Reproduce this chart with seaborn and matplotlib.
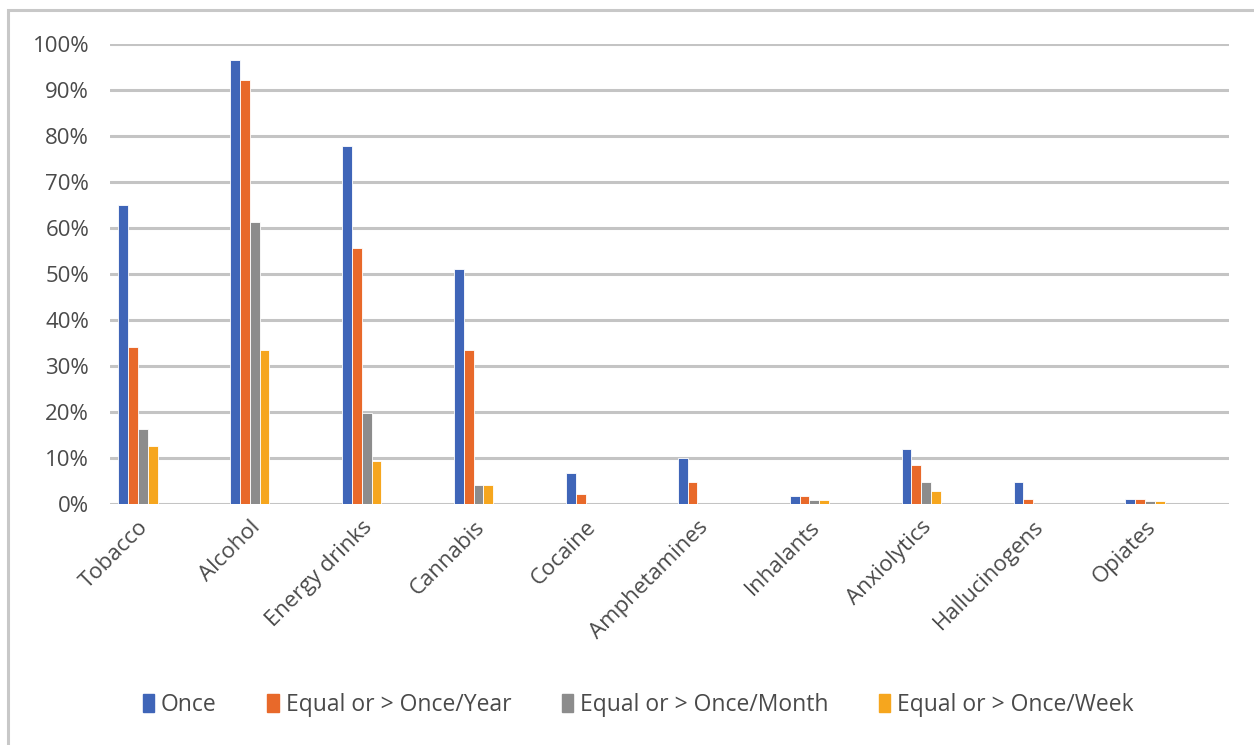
import matplotlib
matplotlib.use("Agg")
import matplotlib.pyplot as plt
import matplotlib.patches as mpatches
from matplotlib.ticker import PercentFormatter
import seaborn as sns
import pandas as pd

substances = ["Tobacco", "Alcohol", "Energy drinks", "Cannabis", "Cocaine",
              "Amphetamines", "Inhalants", "Anxiolytics", "Hallucinogens", "Opiates"]
frequencies = ["Once", "Equal or > Once/Year", "Equal or > Once/Month", "Equal or > Once/Week"]

once = [65.0, 96.5, 77.8, 51.1, 6.7, 10.1, 1.7, 11.9, 4.7, 1.0]
per_year = [34.1, 92.2, 55.7, 33.5, 2.2, 4.8, 1.7, 8.5, 1.0, 1.0]
per_month = [16.3, 61.3, 19.7, 4.1, 0.0, 0.0, 0.8, 4.7, 0.0, 0.7]
per_week = [12.5, 33.5, 9.4, 4.1, 0.0, 0.0, 0.8, 2.9, 0.0, 0.7]

palette = ["#3F65B8", "#E8692A", "#8C8C8C", "#F6A61E"]

rows = []
for name, vals in zip(frequencies, [once, per_year, per_month, per_week]):
    for sub, v in zip(substances, vals):
        rows.append({"Substance": sub, "Frequency": name, "Share": v / 100.0})
df = pd.DataFrame(rows)

sns.set_theme(style="white")
plt.rcParams["font.family"] = ["Open Sans", "DejaVu Sans"]

fig = plt.figure(figsize=(12.54, 7.45), dpi=100)
ax = fig.add_axes([110 / 1254, 0.3235, 1119 / 1254, 0.6175])

sns.barplot(data=df, x="Substance", y="Share", hue="Frequency",
            order=substances, hue_order=frequencies, palette=palette,
            width=0.35, saturation=1.0, edgecolor="white", linewidth=0.6,
            errorbar=None, legend=False, ax=ax, zorder=3)

ax.set_ylim(0, 1.0)
ax.set_xlim(-0.25, len(substances) - 0.25)
ax.set_yticks([i / 10 for i in range(11)])
ax.yaxis.set_major_formatter(PercentFormatter(1.0, decimals=0))
ax.yaxis.grid(True, color="#C4C4C4", linewidth=2.2, zorder=0)
ax.xaxis.grid(False)
ax.set_axisbelow(True)
for s in ax.spines.values():
    s.set_visible(False)
ax.set_xlabel("")
ax.set_ylabel("")
ax.tick_params(axis="both", length=0, labelsize=16, colors="#4A4A4A")
ax.tick_params(axis="y", pad=15)
ax.tick_params(axis="x", pad=9)
for lbl in ax.get_xticklabels():
    lbl.set_rotation(45)
    lbl.set_ha("right")
    lbl.set_rotation_mode("anchor")

handles = [mpatches.Patch(color=c, label=l) for c, l in zip(palette, frequencies)]
fig.legend(handles=handles, loc="center", bbox_to_anchor=(0.509, 0.054), ncol=4,
           frameon=False, fontsize=16.5, handlelength=0.5, handleheight=0.8,
           handletextpad=0.3, columnspacing=2.2, labelcolor="#4A4A4A")

fig.patches.append(mpatches.Rectangle((8 / 1254, -0.01), 1.0, 1 - 10 / 745 + 0.01,
                                      transform=fig.transFigure, fill=False,
                                      edgecolor="#C8C8C8", linewidth=2.2))

fig.savefig("out.png", dpi=100, facecolor="white")
